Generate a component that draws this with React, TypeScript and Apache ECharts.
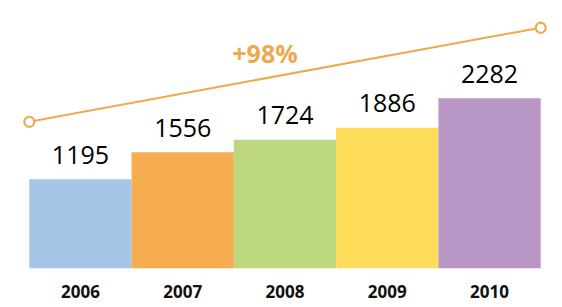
import React, { useEffect, useRef } from "react";
import * as echarts from "echarts";

const categories = ["2006", "2007", "2008", "2009", "2010"];
const values = [1195, 1556, 1724, 1886, 2282];
const barColors = ["#A4C5E6", "#F5AD50", "#BDD77E", "#FEDC5A", "#B896C5"];
const trendCategories = ["2006", "2010"];
const trendValues = [1195, 2282];
const growthLabel = "+98%";

export default function App() {
  const ref = useRef<HTMLDivElement>(null);
  useEffect(() => {
    document.body.style.margin = "0";
    const chart = echarts.init(ref.current!, null, { renderer: "svg" });
    chart.setOption({
      animation: false,
      backgroundColor: "#ffffff",
      grid: { left: 29.3, right: 21.3, top: 18.6, bottom: 38.7 },
      xAxis: [
        {
          type: "category",
          data: categories,
          axisLine: { show: false },
          axisTick: { show: false },
          axisLabel: {
            color: "#111",
            fontFamily: "Open Sans",
            fontWeight: "bold",
            fontSize: 17,
            margin: 15,
          },
        },
        {
          type: "category",
          data: trendCategories,
          boundaryGap: false,
          show: false,
        },
      ],
      yAxis: [
        { type: "value", min: 0, max: 3350, show: false, splitLine: { show: false } },
        { type: "value", min: -500, max: 2387, show: false, splitLine: { show: false } },
      ],
      graphic: [
        {
          type: "text",
          x: 265,
          y: 53,
          style: {
            text: growthLabel,
            fill: "#EDA94E",
            font: "bold 25px 'Open Sans'",
            align: "center",
            verticalAlign: "middle",
          },
        },
      ],
      series: [
        {
          type: "bar",
          data: values.map((v, i) => ({ value: v, itemStyle: { color: barColors[i] } })),
          barCategoryGap: 0,
          barWidth: "100%",
          label: {
            show: true,
            position: "top",
            distance: 13,
            color: "#000",
            fontFamily: "Open Sans",
            fontWeight: "normal",
            fontSize: 25,
          },
        },
        {
          type: "line",
          xAxisIndex: 1,
          yAxisIndex: 1,
          data: trendValues,
          symbol: "emptyCircle",
          symbolSize: 10,
          clip: false,
          lineStyle: { color: "#EDA94E", width: 2 },
          itemStyle: { color: "#EDA94E", borderWidth: 1.5 },
        },
      ],
    });
    return () => chart.dispose();
  }, []);
  return <div ref={ref} style={{ position: "absolute", left: 0, top: 0, width: 562, height: 307 }} />;
}
